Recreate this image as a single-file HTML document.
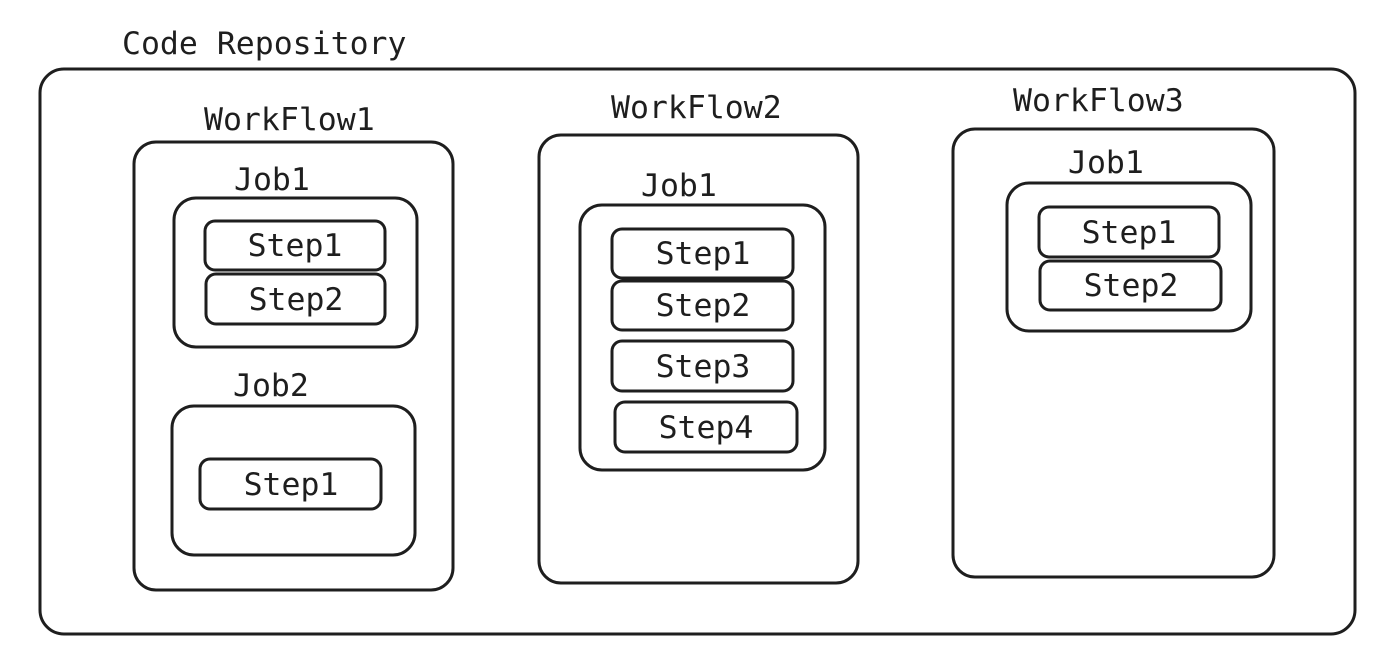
<!DOCTYPE html>
<html><head><meta charset="utf-8"><style>
html,body{margin:0;padding:0;background:#fff;}
svg text{font-family:"DejaVu Sans Mono","Liberation Mono",monospace;font-size:31.5px;fill:#1e1e1e;}
</style></head><body>
<svg width="1387" height="657" viewBox="0 0 1387 657" xmlns="http://www.w3.org/2000/svg">
<g fill="none" stroke="#1e1e1e" stroke-width="3">
<rect x="40" y="69" width="1315" height="565" rx="24"/>
<rect x="134" y="142" width="319" height="448" rx="22"/>
<rect x="174" y="198" width="243" height="149" rx="22"/>
<rect x="205" y="221" width="180" height="49" rx="10"/>
<rect x="206" y="274" width="179" height="50" rx="10"/>
<rect x="172" y="406" width="243" height="149" rx="22"/>
<rect x="200" y="459" width="181" height="50" rx="10"/>
<rect x="539" y="135" width="319" height="448" rx="22"/>
<rect x="580" y="205" width="245" height="265" rx="22"/>
<rect x="612" y="229" width="181" height="49" rx="10"/>
<rect x="612" y="281" width="181" height="49" rx="10"/>
<rect x="612" y="341" width="181" height="50" rx="10"/>
<rect x="615" y="402" width="182" height="50" rx="10"/>
<rect x="953" y="129" width="321" height="448" rx="22"/>
<rect x="1007" y="183" width="244" height="148" rx="22"/>
<rect x="1039" y="207" width="180" height="50" rx="10"/>
<rect x="1040" y="261" width="181" height="49" rx="10"/>
</g>
<text x="122" y="54">Code Repository</text>
<text x="204" y="130">WorkFlow1</text>
<text x="234" y="190">Job1</text>
<text x="295" y="256" text-anchor="middle">Step1</text>
<text x="296" y="310" text-anchor="middle">Step2</text>
<text x="233" y="396">Job2</text>
<text x="291" y="495" text-anchor="middle">Step1</text>
<text x="611" y="118">WorkFlow2</text>
<text x="641" y="196">Job1</text>
<text x="703" y="264" text-anchor="middle">Step1</text>
<text x="703" y="316" text-anchor="middle">Step2</text>
<text x="703" y="377" text-anchor="middle">Step3</text>
<text x="706" y="438" text-anchor="middle">Step4</text>
<text x="1013" y="111">WorkFlow3</text>
<text x="1068" y="173">Job1</text>
<text x="1129" y="243" text-anchor="middle">Step1</text>
<text x="1131" y="296" text-anchor="middle">Step2</text>
</svg>
</body></html>
